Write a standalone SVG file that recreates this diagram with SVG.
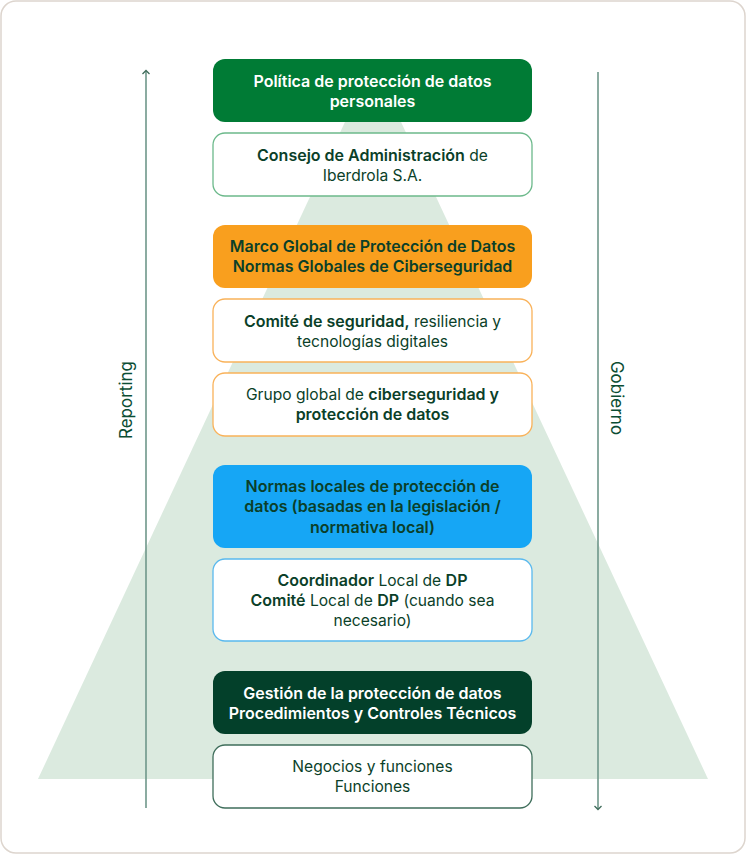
<svg xmlns="http://www.w3.org/2000/svg" width="746" height="854" viewBox="0 0 746 854">
<style>
text{font-family:Inter,"Noto Sans","Liberation Sans",sans-serif;font-size:15.6px;text-anchor:middle;fill:#0b3f29}
.b{font-weight:600;font-size:16px}
.w{fill:#ffffff}
.box{stroke-width:1.3}
.line{stroke:#6f978a;stroke-width:1.6;fill:none}
.head{stroke:#3e6b5a;stroke-width:1.3;fill:none}
.lbl{font-size:17px;fill:#0b4d33}
</style>
<rect x="1" y="1" width="744" height="852" rx="15" fill="#ffffff" stroke="#ddd5ce" stroke-width="1.5"/>
<polygon points="373,62 708,779 38,779" fill="#dbeadf"/>
<g id="connectors">
  <line class="line" x1="146" y1="808" x2="146" y2="71"/>
  <path class="head" d="M142.5,74 L146,70.5 L149.5,74"/>
  <line class="line" x1="598" y1="72" x2="598" y2="809"/>
  <path class="head" d="M594.5,806 L598,809.5 L601.5,806"/>
  <text class="lbl" transform="translate(132,400) rotate(-90)">Reporting</text>
  <text class="lbl" transform="translate(611,398) rotate(90)">Gobierno</text>
</g>
<g id="n1">
  <rect x="213" y="59" width="319" height="63" rx="12" fill="#007b35"/>
  <text class="b w" x="372.5" y="87">Política de protección de datos</text>
  <text class="b w" x="372.5" y="107">personales</text>
</g>
<g id="n2">
  <rect class="box" x="213" y="133" width="319" height="63" rx="12" fill="#ffffff" stroke="#6cb98b"/>
  <text x="372.5" y="161"><tspan class="b">Consejo de Administración</tspan> de</text>
  <text x="372.5" y="181">Iberdrola S.A.</text>
</g>
<g id="n3">
  <rect x="213" y="225" width="319" height="63" rx="12" fill="#f99f1e"/>
  <text class="b" x="372.5" y="252">Marco Global de Protección de Datos</text>
  <text class="b" x="372.5" y="272">Normas Globales de Ciberseguridad</text>
</g>
<g id="n4">
  <rect class="box" x="213" y="299" width="319" height="63" rx="12" fill="#ffffff" stroke="#f9b25a"/>
  <text x="372.5" y="327"><tspan class="b">Comité de seguridad,</tspan> resiliencia y</text>
  <text x="372.5" y="347">tecnologías digitales</text>
</g>
<g id="n5">
  <rect class="box" x="213" y="373" width="319" height="63" rx="12" fill="#ffffff" stroke="#f9b25a"/>
  <text x="372.5" y="400">Grupo global de <tspan class="b">ciberseguridad y</tspan></text>
  <text class="b" x="372.5" y="420">protección de datos</text>
</g>
<g id="n6">
  <rect x="213" y="465" width="319" height="83" rx="12" fill="#16a6f5"/>
  <text class="b" x="372.5" y="492">Normas locales de protección de</text>
  <text class="b" x="372.5" y="512">datos (basadas en la legislación /</text>
  <text class="b" x="372.5" y="533">normativa local)</text>
</g>
<g id="n7">
  <rect class="box" x="213" y="559" width="319" height="82" rx="12" fill="#ffffff" stroke="#5ab9ee"/>
  <text x="372.5" y="586"><tspan class="b">Coordinador</tspan> Local de <tspan class="b">DP</tspan></text>
  <text x="372.5" y="606"><tspan class="b">Comité</tspan> Local de <tspan class="b">DP</tspan> (cuando sea</text>
  <text x="372.5" y="626">necesario)</text>
</g>
<g id="n8">
  <rect x="213" y="671" width="319" height="63" rx="12" fill="#03402a"/>
  <text class="b w" x="372.5" y="699">Gestión de la protección de datos</text>
  <text class="b w" x="372.5" y="719">Procedimientos y Controles Técnicos</text>
</g>
<g id="n9">
  <rect class="box" x="213" y="745" width="319" height="63" rx="12" fill="#ffffff" stroke="#3f6e5b"/>
  <text x="372.5" y="772">Negocios y funciones</text>
  <text x="372.5" y="792">Funciones</text>
</g>
</svg>
